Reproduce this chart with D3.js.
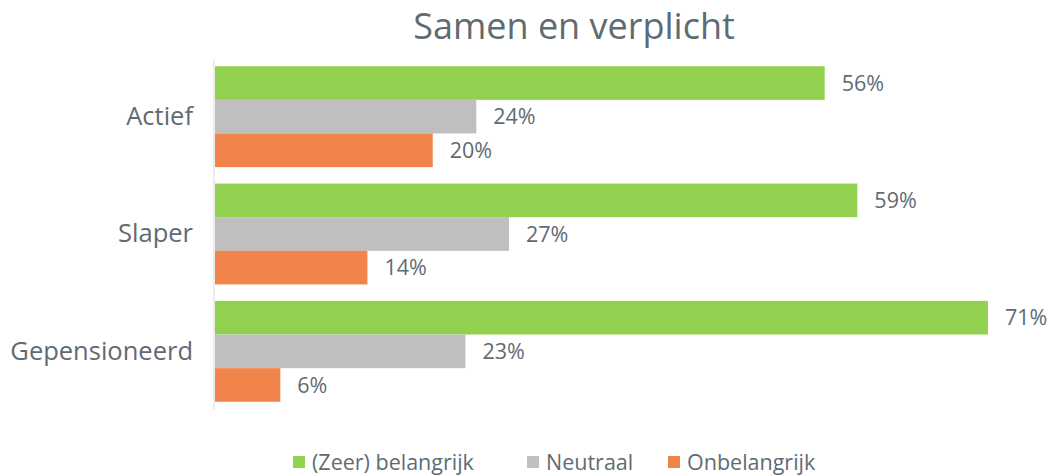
<!DOCTYPE html>
<html>
<head>
<meta charset="utf-8">
<script src="https://cdn.jsdelivr.net/npm/d3@7"></script>
<style>
  body { margin: 0; background: #fff; }
  text { font-family: "Open Sans", sans-serif; fill: #5f6b73; }
</style>
</head>
<body>
<div id="chart"></div>
<script>
const width = 1051;
const height = 476;

const categories = ["Actief", "Slaper", "Gepensioneerd"];
const series = ["(Zeer) belangrijk", "Neutraal", "Onbelangrijk"];
const belangrijk = [56, 59, 71];
const neutraal = [24, 27, 23];
const onbelangrijk = [20, 14, 6];
const colors = ["#92d050", "#bfbfbf", "#f0844a"];

const values = [belangrijk, neutraal, onbelangrijk];

const margin = { left: 215, right: 63, top: 58, bottom: 66 };

const svg = d3.select("#chart").append("svg")
    .attr("width", width)
    .attr("height", height);

const xScale = d3.scaleLinear()
    .domain([0, 71])
    .range([margin.left, 988]);

const yScale = d3.scaleBand()
    .domain(categories)
    .range([margin.top, height - margin.bottom])
    .paddingInner(0.14)
    .paddingOuter(0.07);

const sub = d3.scaleBand()
    .domain(d3.range(series.length))
    .range([0, yScale.bandwidth()]);

// title
svg.append("text")
    .attr("x", 574)
    .attr("y", 39)
    .attr("text-anchor", "middle")
    .style("font-size", "36px")
    .text("Samen en verplicht");

// vertical axis line
svg.append("line")
    .attr("x1", margin.left - 1)
    .attr("x2", margin.left - 1)
    .attr("y1", margin.top + 2)
    .attr("y2", height - margin.bottom)
    .attr("stroke", "#e6e6e6")
    .attr("stroke-width", 1.5);

const yAxis = svg.append("g")
    .attr("transform", "translate(" + (margin.left - 22) + ",0)")
    .call(d3.axisLeft(yScale).tickSize(0).tickPadding(0));
yAxis.select(".domain").remove();
yAxis.selectAll(".tick text")
    .style("font-size", "25.5px")
    .style("font-family", "'Open Sans', sans-serif")
    .attr("fill", "#5f6b73");

const groups = svg.selectAll(".group")
    .data(categories)
    .join("g")
      .attr("class", "group")
      .attr("transform", d => "translate(0," + yScale(d) + ")");

groups.each(function(cat, ci) {
  const g = d3.select(this);
  const rows = series.map((s, si) => ({ s: si, v: values[si][ci] }));

  g.selectAll("rect")
    .data(rows)
    .join("rect")
      .attr("x", xScale(0))
      .attr("y", d => sub(d.s))
      .attr("width", d => xScale(d.v) - xScale(0))
      .attr("height", sub.bandwidth())
      .attr("fill", d => colors[d.s]);

  g.selectAll(".value")
    .data(rows)
    .join("text")
      .attr("class", "value")
      .attr("x", d => xScale(d.v) + 17)
      .attr("y", d => sub(d.s) + sub.bandwidth() / 2)
      .attr("dy", "0.36em")
      .style("font-size", "21.5px")
      .text(d => d.v + "%");
});

// legend
const legendX = [293, 527, 668];
const legend = svg.selectAll(".legend")
    .data(series)
    .join("g")
      .attr("class", "legend")
      .attr("transform", (d, i) => "translate(" + legendX[i] + ",456)");

legend.append("rect")
    .attr("width", 12)
    .attr("height", 12)
    .attr("fill", (d, i) => colors[i]);

legend.append("text")
    .attr("x", 19)
    .attr("y", 6)
    .attr("dy", "0.36em")
    .style("font-size", "21.5px")
    .text(d => d);
</script>
</body>
</html>
